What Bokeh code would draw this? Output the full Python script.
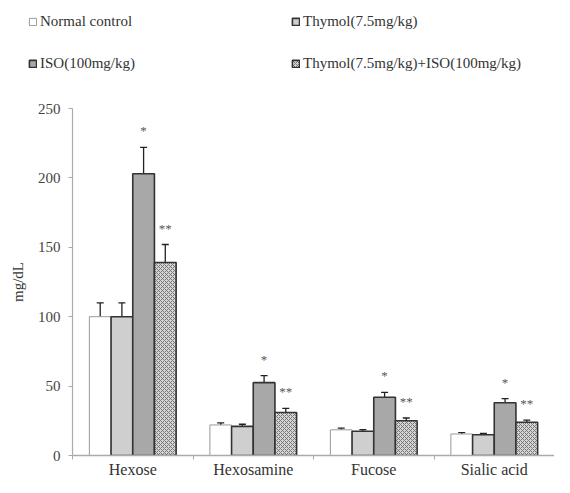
from bokeh.plotting import figure
from bokeh.layouts import column
from bokeh.models import (ColumnDataSource, Range1d, FixedTicker, Whisker, TeeHead,
                          Legend, LegendItem)
from bokeh.core.properties import value
from bokeh.embed import file_html
from bokeh.resources import INLINE

# ---- data ----
categories = ["Hexose", "Hexosamine", "Fucose", "Sialic acid"]
groups = ["Normal control", "Thymol(7.5mg/kg)", "ISO(100mg/kg)", "Thymol(7.5mg/kg)+ISO(100mg/kg)"]
normal = [100, 22, 18.5, 15.5]
normal_err = [10, 1.5, 1.2, 1.0]
thymol = [100, 21, 17.5, 15]
thymol_err = [10, 1.5, 1.2, 1.0]
iso = [203, 52.5, 42, 38]
iso_err = [19, 5, 3.5, 3]
combo = [139, 31, 25, 24]
combo_err = [13, 3, 2, 1.5]
signif = ["", "", "*", "**"]
y_ticks = [0, 50, 100, 150, 200, 250]

series = [normal, thymol, iso, combo]
errors = [normal_err, thymol_err, iso_err, combo_err]

FONT = "Liberation Serif"
W = 554

styles = [
    dict(fill_color="white", line_color="#9a9a9a", line_width=1),
    dict(fill_color="#cfcfcf", line_color="#333333", line_width=1.6),
    dict(fill_color="#a8a8a8", line_color="#333333", line_width=1.6),
    dict(fill_color="#d6d6d6", line_color="#333333", line_width=1.6,
         hatch_pattern="diagonal_cross", hatch_color="#777777", hatch_scale=4, hatch_weight=1),
]

# ---- main chart ----
p = figure(width=W, height=380, output_backend="svg", toolbar_location=None,
           x_range=Range1d(0, len(categories)), y_range=Range1d(0, 250))
p.min_border_left = 72
p.min_border_right = 0
p.min_border_top = 8
p.min_border_bottom = 25
p.outline_line_color = None
p.grid.visible = False
p.frame_align = False

offsets = [-0.27, -0.09, 0.09, 0.27]
bw = 0.18

for gi, (vals, errs) in enumerate(zip(series, errors)):
    xs = [ci + 0.5 + offsets[gi] for ci in range(len(categories))]
    src = ColumnDataSource(dict(x=xs, top=vals,
                                upper=[v + e for v, e in zip(vals, errs)],
                                lower=[v - e for v, e in zip(vals, errs)]))
    p.vbar(x="x", top="top", width=bw, bottom=0, source=src, **styles[gi])
    w = Whisker(base="x", upper="upper", lower="lower", source=src,
                line_color="#222222", line_width=1.3,
                upper_head=TeeHead(size=7, line_color="#222222", line_width=1.3),
                lower_head=TeeHead(size=7, line_color="#222222", line_width=1.3))
    p.add_layout(w)
    if signif[gi]:
        p.text(x="x", y="upper", text=value(signif[gi]), source=src,
               text_align="center", text_baseline="bottom", y_offset=-9,
               text_font=value(FONT), text_font_size="13px", text_color="#555555")

xa = p.xaxis[0]
xa.ticker = FixedTicker(ticks=[i + 0.5 for i in range(len(categories))],
                        minor_ticks=list(range(len(categories) + 1)))
xa.major_label_overrides = {i + 0.5: c for i, c in enumerate(categories)}
xa.major_tick_line_color = None
xa.major_tick_out = 0
xa.major_tick_in = 0
xa.minor_tick_out = 4
xa.minor_tick_in = 0
xa.minor_tick_line_color = "#aaaaaa"
xa.axis_line_color = "#aaaaaa"
xa.axis_line_width = 1.5
xa.major_label_standoff = 1
xa.major_label_text_font = FONT
xa.major_label_text_font_size = "16px"
xa.major_label_text_color = "#333333"

ya = p.yaxis[0]
ya.ticker = FixedTicker(ticks=y_ticks, minor_ticks=[])
ya.axis_line_color = "#aaaaaa"
ya.axis_line_width = 1.2
ya.major_tick_line_color = "#aaaaaa"
ya.major_tick_out = 4
ya.major_tick_in = 0
ya.major_label_standoff = 8
ya.major_label_text_font = FONT
ya.major_label_text_font_size = "15px"
ya.major_label_text_color = "#444444"
ya.axis_label = "mg/dL"
ya.axis_label_text_font = FONT
ya.axis_label_text_font_style = "normal"
ya.axis_label_text_font_size = "15px"
ya.axis_label_text_color = "#333333"
ya.axis_label_standoff = 9

# ---- legend strip ----
lg = figure(width=W, height=100, output_backend="svg", toolbar_location=None,
            x_range=Range1d(0, 1), y_range=Range1d(0, 1),
            x_axis_location=None, y_axis_location=None)
lg.min_border = 0
lg.outline_line_color = None
lg.grid.visible = False
lg.frame_align = False
items = []
for gi, g in enumerate(groups):
    # zero-size placeholder hidden beneath the opaque legend box: only its swatch is shown
    r = lg.vbar(x=[0.3], top=[0.6], bottom=0.6, width=0, **styles[gi])
    items.append(LegendItem(label=g, renderers=[r]))

legend = Legend(items=items, location=(28, 28), orientation="horizontal", ncols=2,
                glyph_width=9, glyph_height=9, label_standoff=3, spacing=25,
                label_width=226, padding=0, margin=0,
                border_line_color=None, background_fill_color="white",
                background_fill_alpha=1,
                label_text_font=FONT, label_text_font_size="15px",
                label_text_color="#333333")
lg.add_layout(legend, "center")

layout = column(lg, p, spacing=0)
open("out.html", "w").write(file_html(layout, INLINE))
